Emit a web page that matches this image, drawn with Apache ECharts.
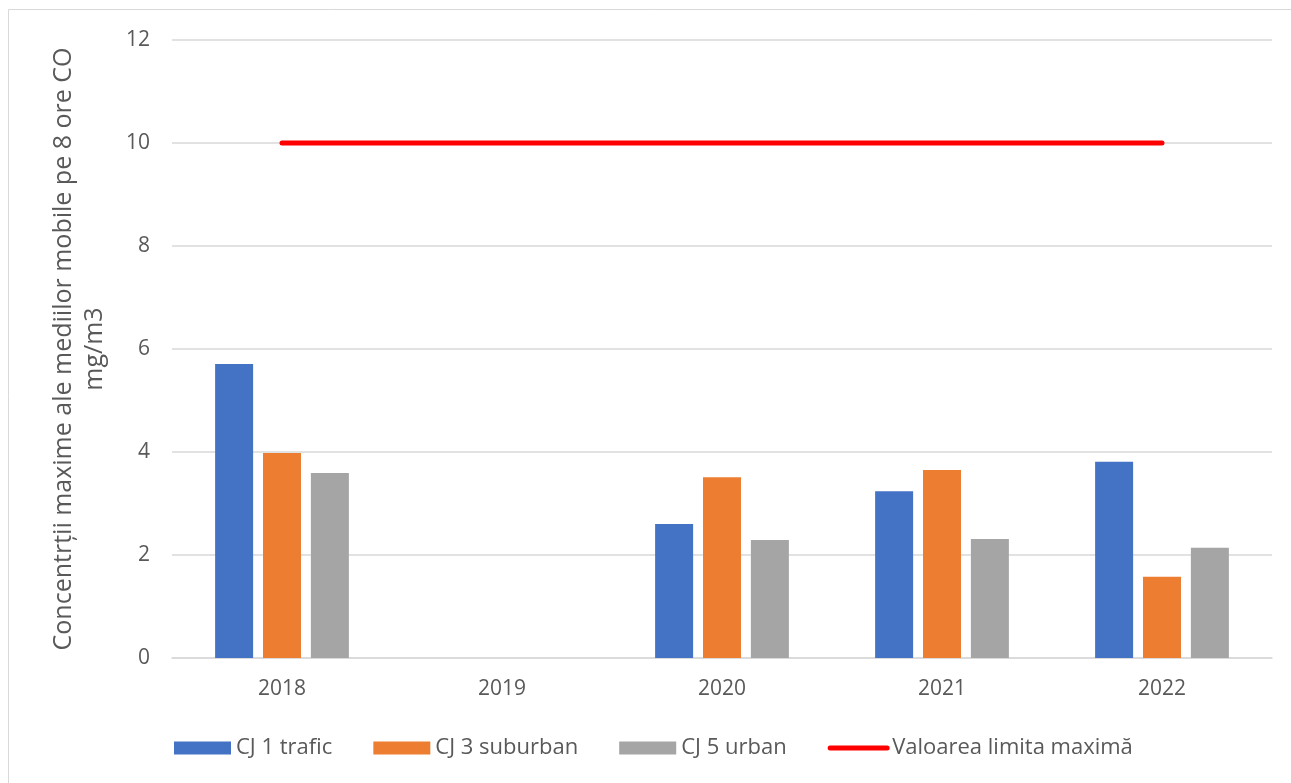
<!DOCTYPE html>
<html>
<head>
    <meta charset="utf-8">
    <title>CO</title>
    <script src="https://cdn.jsdelivr.net/npm/echarts@6/dist/echarts.min.js"></script>
</head>
<body style="margin:0">
    <div id="main" style="width: 1291px;height:783px;"></div>
    <script>
        var myChart = echarts.init(document.getElementById("main"));

        var years = ['2018', '2019', '2020', '2021', '2022'];
        var cj1 = [5.71, null, 2.60, 3.24, 3.81];
        var cj3 = [3.98, null, 3.51, 3.65, 1.58];
        var cj5 = [3.59, null, 2.29, 2.31, 2.14];
        var limita = [10, 10, 10, 10, 10];

        var font = 'Open Sans';
        var textColor = '#595959';

        var option = {
            animation: false,
            textStyle: { fontFamily: font },
            graphic: [{
                type: 'rect',
                shape: { x: 8.5, y: 9.5, width: 1300, height: 800 },
                style: { fill: 'none', stroke: '#d9d9d9', lineWidth: 1 }
            }],
            grid: { left: 172, right: 19, top: 40, bottom: 125 },
            legend: {
                top: 732,
                left: 169,
                itemWidth: 57,
                itemHeight: 13,
                itemGap: 41,
                textStyle: { color: textColor, fontSize: 22, fontFamily: font },
                data: [
                    { name: 'CJ 1 trafic', icon: 'rect' },
                    { name: 'CJ 3 suburban', icon: 'rect' },
                    { name: 'CJ 5 urban', icon: 'rect' },
                    {
                        name: 'Valoarea limita maximă',
                        itemStyle: { opacity: 0 },
                        lineStyle: { width: 5, cap: 'round' }
                    }
                ]
            },
            xAxis: {
                type: 'category',
                data: years,
                axisTick: { show: false },
                axisLine: { lineStyle: { color: '#d9d9d9', width: 1.5 } },
                axisLabel: { color: textColor, fontSize: 21, margin: 21 }
            },
            yAxis: {
                type: 'value',
                min: 0,
                max: 12,
                interval: 2,
                name: 'Concentrții maxime ale mediilor mobile pe 8 ore CO\nmg/m3',
                nameLocation: 'middle',
                nameRotate: 90,
                nameGap: 62,
                nameTextStyle: { color: textColor, fontSize: 25, lineHeight: 31 },
                axisLabel: { color: textColor, fontSize: 21, margin: 22 },
                splitLine: { lineStyle: { color: '#d9d9d9', width: 1.5 } }
            },
            series: [
                {
                    name: 'CJ 1 trafic', type: 'bar', data: cj1,
                    barWidth: 38, barGap: '26%',
                    itemStyle: { color: '#4472c4' }
                },
                {
                    name: 'CJ 3 suburban', type: 'bar', data: cj3,
                    barWidth: 38, barGap: '26%',
                    itemStyle: { color: '#ed7d31' }
                },
                {
                    name: 'CJ 5 urban', type: 'bar', data: cj5,
                    barWidth: 38, barGap: '26%',
                    itemStyle: { color: '#a5a5a5' }
                },
                {
                    name: 'Valoarea limita maximă', type: 'line', data: limita,
                    symbol: 'none',
                    lineStyle: { color: '#ff0000', width: 5, cap: 'round' },
                    itemStyle: { color: '#ff0000' }
                }
            ]
        };

        myChart.setOption(option);
    </script>
</body>
</html>
